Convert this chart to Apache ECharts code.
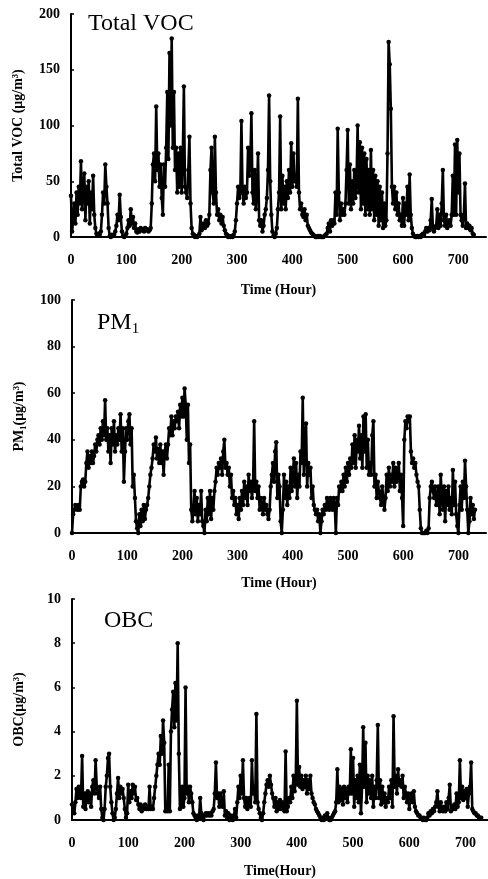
<!DOCTYPE html>
<html>
<head>
<meta charset="utf-8">
<script src="https://cdn.jsdelivr.net/npm/echarts@6/dist/echarts.min.js"></script>
<style>
html,body{margin:0;padding:0;background:#fff;}
#c{width:488px;height:879px;}
</style>
</head>
<body>
<div id="c"></div>
<script>
const stepHours = 2;
const xTicks = [0, 100, 200, 300, 400, 500, 600, 700];

// Total VOC (ug/m3), every 2 h from hour 0 (one row = 20 h)
const vocValues = [
  37, 5, 15, 30, 12, 40, 20, 45, 30, 68,
  25, 45, 57, 15, 45, 30, 50, 12, 40, 25,
  55, 20, 8, 3, 2, 3, 2, 5, 20, 40,
  30, 65, 45, 30, 8, 1, 0, 2, 1, 2,
  5, 10, 20, 15, 38, 18, 5, 1, 0, 1,
  3, 8, 15, 10, 25, 12, 18, 8, 12, 5,
  4, 7, 5, 8, 6, 7, 5, 8, 6, 7,
  5, 6, 8, 30, 65, 75, 50, 117, 60, 75,
  45, 65, 35, 20, 65, 45, 80, 130, 70, 165,
  100, 178, 80, 130, 60, 80, 40, 75, 45, 80,
  40, 70, 135, 45, 40, 35, 60, 90, 30, 8,
  3, 2, 0, 1, 0, 1, 3, 18, 6, 10,
  12, 8, 15, 10, 12, 20, 60, 80, 40, 30,
  90, 40, 20, 25, 15, 20, 12, 18, 10, 6,
  3, 2, 0, 1, 0, 1, 0, 2, 5, 15,
  30, 45, 35, 40, 104, 40, 30, 45, 35, 40,
  80, 55, 65, 111, 40, 30, 60, 25, 40, 75,
  15, 10, 15, 5, 10, 20, 25, 35, 60, 127,
  50, 20, 5, 1, 0, 3, 8, 25, 40, 108,
  25, 55, 30, 45, 25, 50, 35, 60, 40, 84,
  45, 75, 50, 55, 45, 124, 40, 25, 30, 20,
  18, 25, 15, 20, 10, 8, 6, 4, 3, 2,
  1, 0, 0, 1, 0, 1, 0, 0, 0, 1,
  2, 3, 8, 12, 5, 15, 10, 15, 12, 40,
  20, 97, 40, 15, 30, 20, 25, 20, 30, 60,
  96, 30, 65, 25, 50, 30, 60, 35, 50, 100,
  40, 85, 25, 80, 30, 75, 20, 70, 25, 60,
  20, 78, 25, 60, 15, 55, 20, 50, 10, 45,
  15, 40, 8, 30, 10, 15, 75, 175, 155, 115,
  45, 30, 45, 25, 40, 20, 30, 15, 20, 10,
  35, 10, 30, 20, 45, 15, 56, 20, 8, 3,
  1, 0, 0, 1, 0, 1, 0, 2, 3, 2,
  5, 8, 5, 8, 6, 15, 34, 8, 5, 8,
  10, 25, 8, 20, 10, 30, 60, 15, 10, 20,
  8, 12, 15, 10, 20, 55, 20, 83, 20, 87,
  40, 75, 20, 15, 10, 20, 48, 8, 12, 8,
  10, 6, 8, 3, 2
];

// PM1 (ug/m3), every 2 h from hour 0 (one row = 20 h)
const pm1Values = [
  0, 8, 10, 12, 11, 10, 12, 10, 20, 22,
  23, 20, 22, 30, 35, 28, 33, 30, 35, 30,
  33, 38, 35, 40, 42, 38, 45, 40, 48, 42,
  57, 40, 45, 35, 42, 30, 45, 38, 48, 35,
  42, 38, 45, 40, 51, 35, 45, 22, 35, 45,
  40, 48, 51, 38, 45, 20, 25, 15, 5, 2,
  0, 8, 3, 10, 5, 12, 6, 10, 12, 15,
  20, 25, 28, 32, 38, 35, 41, 32, 36, 30,
  38, 30, 35, 25, 35, 38, 32, 38, 45, 42,
  50, 42, 48, 45, 50, 48, 52, 45, 55, 50,
  58, 50, 62, 55, 40, 55, 30, 38, 10, 5,
  10, 18, 8, 15, 5, 12, 8, 18, 5, 3,
  0, 10, 5, 15, 8, 18, 6, 15, 10, 18,
  22, 28, 25, 30, 28, 32, 25, 35, 40, 28,
  30, 25, 28, 20, 25, 15, 18, 12, 15, 8,
  12, 6, 15, 10, 18, 12, 22, 15, 20, 12,
  25, 18, 22, 15, 20, 48, 18, 22, 15, 20,
  10, 15, 12, 8, 15, 10, 12, 8, 6, 10,
  20, 25, 30, 22, 35, 39, 15, 25, 20, 5,
  0, 10, 25, 15, 22, 12, 20, 15, 28, 18,
  25, 32, 20, 30, 15, 25, 20, 35, 30, 58,
  25, 40, 47, 20, 30, 25, 28, 15, 20, 12,
  10, 8, 10, 5, 8, 0, 5, 10, 8, 12,
  10, 15, 12, 10, 15, 12, 10, 15, 12, 0,
  15, 12, 20, 18, 22, 18, 25, 20, 28, 22,
  30, 25, 32, 28, 38, 30, 42, 28, 40, 35,
  46, 32, 42, 28, 50, 35, 51, 28, 40, 25,
  30, 25, 42, 48, 20, 25, 15, 22, 18, 15,
  12, 20, 15, 10, 15, 25, 18, 28, 20, 25,
  22, 30, 20, 28, 22, 25, 30, 18, 25, 15,
  3, 40, 48, 45, 50, 48, 50, 35, 30, 32,
  28, 30, 25, 22, 20, 10, 2, 0, 0, 0,
  0, 1, 0, 2, 15, 20, 22, 18, 15, 20,
  12, 15, 20, 8, 25, 15, 10, 20, 5, 18,
  12, 20, 10, 15, 8, 27, 12, 22, 8, 3,
  0, 12, 20, 10, 22, 15, 31, 20, 10, 0,
  5, 15, 8, 12, 6, 10
];

// OBC (ug/m3), every 2 h from hour 0 (one row = 20 h)
const obcValues = [
  0.7, 0.5, 0.3, 0.8, 1.4, 1.0, 1.5, 1.2, 1.0, 2.9,
  0.6, 1.2, 0.5, 1.0, 1.3, 0.8, 1.2, 0.6, 1.5, 1.8,
  1.2, 2.7, 1.5, 1.2, 1.0, 1.5, 0.5, 0.1, 0.0, 0.5,
  1.5, 2.0, 2.8, 3.0, 1.5, 0.8, 0.3, 0.0, 0.1, 0.5,
  1.2, 1.9, 1.0, 1.5, 1.2, 1.4, 1.0, 0.5, 0.1, 0.3,
  1.6, 0.8, 1.3, 1.0, 1.6, 1.2, 1.5, 0.9, 1.0, 0.7,
  0.5, 0.7, 0.4, 0.6, 0.5, 0.7, 0.5, 0.6, 0.5, 1.5,
  0.5, 0.6, 0.5, 1.0, 1.5, 2.0, 2.5, 3.0, 2.5, 3.8,
  3.0, 4.5, 3.5, 0.4, 0.5, 0.4, 2.5, 0.4, 4.0, 5.0,
  5.8, 4.2, 6.2, 4.5, 8.0, 3.0, 0.5, 0.6, 1.5, 0.6,
  1.0, 6.0, 1.2, 1.5, 0.8, 1.5, 1.2, 0.8, 0.3, 0.2,
  0.1, 0.0, 0.2, 0.1, 1.0, 0.3, 0.1, 0.0, 0.2, 0.3,
  0.2, 0.3, 0.2, 0.3, 0.2, 0.4, 0.5, 1.2, 2.6, 1.0,
  1.2, 0.6, 1.2, 0.8, 0.6, 1.3, 0.2, 0.4, 0.1, 0.3,
  0.0, 0.2, 0.1, 0.0, 0.2, 0.5, 0.1, 0.8, 1.5, 1.0,
  2.0, 1.2, 2.7, 1.0, 0.6, 1.0, 0.5, 0.8, 1.0, 0.6,
  2.7, 1.2, 1.5, 0.8, 4.8, 0.8, 0.5, 0.3, 0.1, 0.0,
  0.3, 0.8, 1.2, 1.6, 1.8, 1.5, 2.0, 1.6, 1.2, 1.0,
  0.6, 1.0, 0.4, 0.8, 0.5, 0.9, 0.5, 0.8, 0.6, 0.4,
  3.1, 0.4, 0.6, 1.0, 0.8, 1.5, 1.0, 2.0, 1.3, 1.8,
  5.4, 1.6, 2.4, 1.5, 2.0, 1.4, 1.8, 1.5, 2.0, 1.2,
  1.8, 1.4, 2.0, 1.2, 1.0, 0.8, 0.7, 0.5, 0.4, 0.3,
  0.2, 0.1, 0.0, 0.1, 0.0, 0.2, 0.1, 0.3, 0.1, 0.0,
  0.0, 0.1, 0.2, 0.3, 0.4, 0.8, 2.3, 0.8, 1.5, 0.9,
  1.4, 0.7, 1.5, 1.0, 1.4, 0.8, 1.5, 1.2, 3.2, 1.2,
  2.8, 0.6, 1.8, 1.0, 2.0, 0.8, 2.5, 0.3, 1.5, 4.2,
  1.5, 3.5, 0.8, 2.0, 1.2, 1.8, 1.0, 2.0, 0.6, 1.5,
  1.0, 1.8, 4.3, 1.0, 1.8, 0.7, 1.5, 0.8, 1.2, 0.6,
  1.0, 0.8, 1.5, 1.0, 1.8, 0.6, 4.7, 1.5, 2.0, 1.2,
  2.3, 1.6, 1.8, 1.5, 2.0, 1.0, 1.5, 1.2, 0.8, 1.2,
  0.5, 1.0, 1.2, 0.8, 1.3, 0.6, 0.4, 0.3, 0.2, 0.2,
  0.1, 0.1, 0.0, 0.1, 0.0, 0.0, 0.1, 0.3, 0.2, 0.4,
  0.3, 0.5, 0.4, 0.6, 0.8, 1.3, 0.6, 0.4, 0.8, 0.5,
  0.4, 0.6, 0.4, 0.8, 0.5, 1.0, 1.6, 0.4, 0.6, 0.5,
  0.7, 0.5, 1.2, 0.6, 0.8, 2.7, 1.0, 1.5, 0.9, 1.3,
  1.0, 1.4, 0.6, 1.2, 1.5, 2.6, 0.5, 0.4, 0.3, 0.3,
  0.2, 0.2, 0.1, 0.1, 0.1
];

const toPairs = vals => vals.map((v, i) => [i * stepHours, v]);

const serif = '"Liberation Serif", "Times New Roman", serif';
const black = '#000';

function xAxisCfg(idx, max, gap, name) {
  return {
    type: 'value', gridIndex: idx, min: 0, max: max, interval: 100,
    name: name, nameLocation: 'middle', nameGap: gap,
    nameTextStyle: { fontFamily: serif, fontWeight: 'bold', fontSize: 14, color: black },
    axisLine: { onZero: false, lineStyle: { color: black, width: 2 } },
    axisTick: { show: false },
    splitLine: { show: false },
    axisLabel: {
      showMaxLabel: false, margin: 16,
      fontFamily: serif, fontWeight: 'bold', fontSize: 14, color: black,
      formatter: v => (xTicks.indexOf(v) >= 0 ? String(v) : '')
    }
  };
}
function yAxisCfg(idx, max, interval, name) {
  return {
    type: 'value', gridIndex: idx, min: 0, max: max, interval: interval,
    name: name, nameLocation: 'middle', nameGap: 46, nameRotate: 90,
    nameTextStyle: { fontFamily: serif, fontWeight: 'bold', fontSize: 14, color: black },
    axisLine: { show: true, lineStyle: { color: black, width: 2 } },
    axisTick: { show: true, inside: true, length: 3, lineStyle: { color: black, width: 1.5 } },
    splitLine: { show: false },
    axisLabel: { margin: 11, fontFamily: serif, fontWeight: 'bold', fontSize: 14, color: black }
  };
}
function lineSeries(idx, data) {
  return {
    type: 'line', xAxisIndex: idx, yAxisIndex: idx, data: data,
    symbol: 'circle', symbolSize: 4.5, showSymbol: true, showAllSymbol: true,
    lineStyle: { color: black, width: 2.6 },
    itemStyle: { color: black, borderWidth: 0 },
    animation: false, silent: true
  };
}

const chart = echarts.init(document.getElementById('c'), null, { renderer: 'canvas' });
chart.setOption({
  backgroundColor: '#fff',
  animation: false,
  grid: [
    { left: 71, top: 14, width: 415, height: 223 },
    { left: 72, top: 300, width: 414, height: 233 },
    { left: 72, top: 599, width: 418, height: 221 }
  ],
  xAxis: [
    xAxisCfg(0, 750, 46, 'Time (Hour)'),
    xAxisCfg(1, 750, 43, 'Time (Hour)'),
    xAxisCfg(2, 740, 44, 'Time(Hour)')
  ],
  yAxis: [
    yAxisCfg(0, 200, 50, 'Total VOC (μg/m³)'),
    yAxisCfg(1, 100, 20, 'PM₁(μg/m³)'),
    yAxisCfg(2, 10, 2, 'OBC(μg/m³)')
  ],
  series: [
    lineSeries(0, toPairs(vocValues)),
    lineSeries(1, toPairs(pm1Values)),
    lineSeries(2, toPairs(obcValues))
  ],
  graphic: [
    { type: 'text', left: 88, top: 12, style: { text: 'Total VOC', font: '24px ' + serif, fill: black } },
    { type: 'text', left: 97, top: 311, style: {
        text: '{m|PM}{s|1}', fill: black,
        rich: { m: { font: '24px ' + serif, fill: black }, s: { font: '15px ' + serif, fill: black, padding: [12, 0, 0, 0] } }
      } },
    { type: 'text', left: 104, top: 609, style: { text: 'OBC', font: '24px ' + serif, fill: black } }
  ]
});
</script>
</body>
</html>
